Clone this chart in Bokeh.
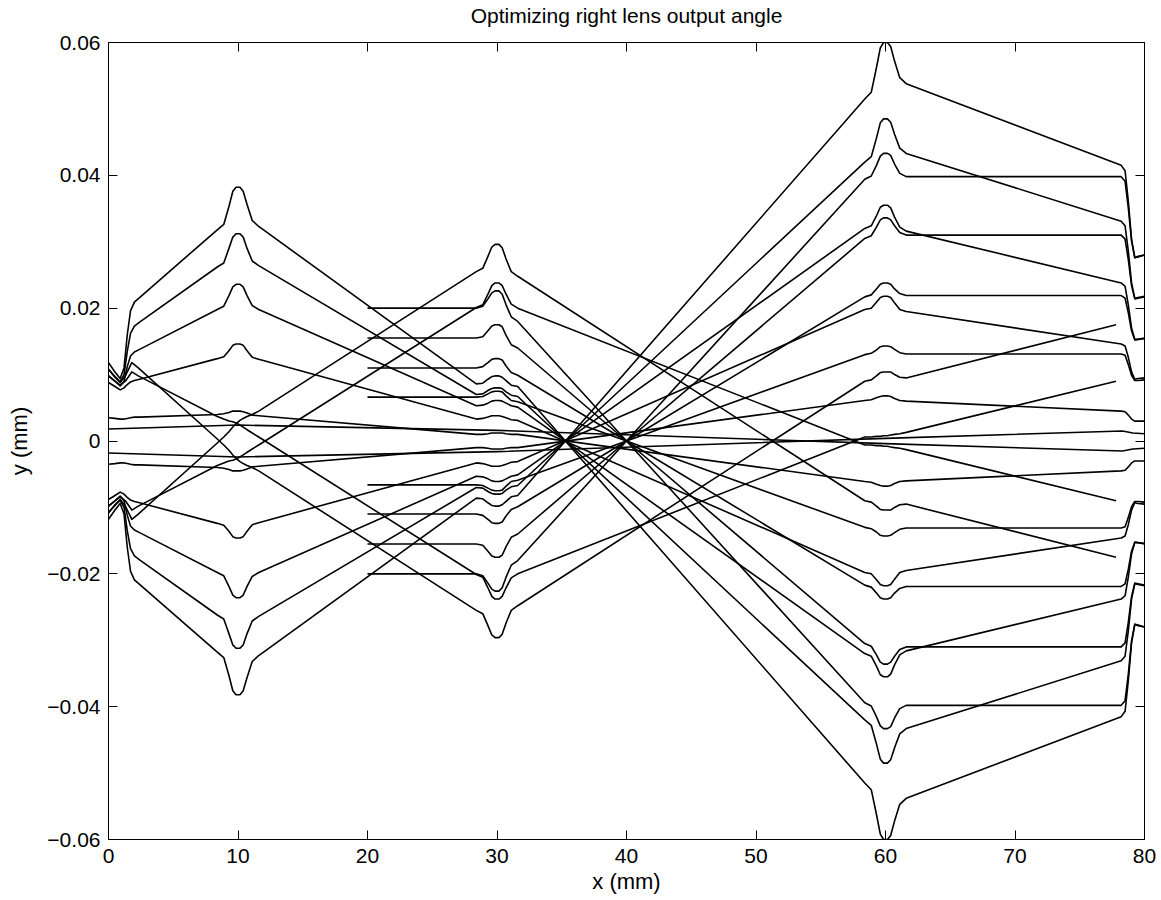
from bokeh.plotting import figure
from bokeh.models import Range1d, FixedTicker, LinearAxis, CustomJSTickFormatter, ColumnDataSource
from bokeh.embed import file_html
from bokeh.resources import INLINE

TITLE = "Optimizing right lens output angle"
X_LABEL = "x (mm)"
Y_LABEL = "y (mm)"
X_TICKS = [0, 10, 20, 30, 40, 50, 60, 70, 80]
Y_TICKS = [-0.06, -0.04, -0.02, 0, 0.02, 0.04, 0.06]

# sample positions (mm) read along the optical axis
SRC_X = [0, 0.5, 0.9, 1.2, 1.45, 1.7, 2.0, 2.4]
LENS10_X = [8.4, 8.9, 9.3, 9.6, 9.85, 10.15, 10.4, 10.7, 11.1, 11.6]
LENS30_X = [28.4, 28.9, 29.3, 29.6, 29.85, 30.15, 30.4, 30.7, 31.1, 31.6]
LENS60_X = [58.4, 58.9, 59.3, 59.6, 59.85, 60.15, 60.4, 60.7, 61.1, 61.6]
LENS80_X = [78.2, 78.5, 78.75, 79.0, 79.25, 79.5, 80]

# ---- rays from the source at x = 0 (wide at the 10 mm and 60 mm lenses) ----
L_X = SRC_X + LENS10_X + LENS30_X + LENS60_X + LENS80_X
L1_Y = [0.0118, 0.0104, 0.0094, 0.0110, 0.0160, 0.0196, 0.0209, 0.0216,
        0.0318, 0.0326, 0.0353, 0.0376, 0.0382, 0.0382, 0.0376, 0.0356, 0.0332, 0.0323,
        0.0086, 0.0087, 0.0093, 0.0097, 0.0098, 0.0098, 0.0096, 0.0091, 0.0084, 0.0082,
        -0.0515, -0.0525, -0.0562, -0.0592, -0.0600, -0.0600, -0.0594, -0.0572, -0.0547, -0.0538,
        -0.0415, -0.0407, -0.0361, -0.0304, -0.0276, -0.0277, -0.0280]
L2_Y = [0.0108, 0.0097, 0.0089, 0.0100, 0.0135, 0.0162, 0.0173, 0.0179,
        0.0262, 0.0268, 0.0290, 0.0307, 0.0312, 0.0312, 0.0307, 0.0290, 0.0271, 0.0264,
        0.0070, 0.0071, 0.0076, 0.0079, 0.0080, 0.0080, 0.0079, 0.0074, 0.0069, 0.0067,
        -0.0420, -0.0428, -0.0456, -0.0479, -0.0485, -0.0485, -0.0480, -0.0462, -0.0441, -0.0433,
        -0.0331, -0.0324, -0.0286, -0.0238, -0.0215, -0.0216, -0.0218]
L3_Y = [0.0098, 0.0090, 0.0083, 0.0090, 0.0112, 0.0128, 0.0134, 0.0138,
        0.0198, 0.0203, 0.0219, 0.0232, 0.0236, 0.0236, 0.0232, 0.0219, 0.0204, 0.0198,
        0.0053, 0.0054, 0.0057, 0.0060, 0.0061, 0.0061, 0.0060, 0.0057, 0.0053, 0.0051,
        -0.0320, -0.0324, -0.0339, -0.0352, -0.0355, -0.0355, -0.0351, -0.0337, -0.0322, -0.0316,
        -0.0238, -0.0233, -0.0205, -0.0170, -0.0153, -0.0153, -0.0155]
L4_Y = [0.0088, 0.0082, 0.0077, 0.0080, 0.0085, 0.0089, 0.0091, 0.0093,
        0.0124, 0.0127, 0.0136, 0.0144, 0.0146, 0.0146, 0.0144, 0.0136, 0.0126, 0.0123,
        0.0033, 0.0034, 0.0036, 0.0038, 0.0038, 0.0038, 0.0037, 0.0035, 0.0032, 0.0031,
        -0.0198, -0.0200, -0.0209, -0.0216, -0.0218, -0.0218, -0.0216, -0.0208, -0.0198, -0.0195,
        -0.0146, -0.0143, -0.0126, -0.0104, -0.0093, -0.0094, -0.0095]
L5_Y = [0.0035, 0.0034, 0.0033, 0.0033, 0.0034, 0.0035, 0.0036, 0.0036,
        0.0040, 0.0041, 0.0043, 0.0045, 0.0045, 0.0045, 0.0044, 0.0042, 0.0039, 0.0038,
        0.0010, 0.0010, 0.0011, 0.0012, 0.0012, 0.0012, 0.0012, 0.0011, 0.0010, 0.0010,
        -0.0061, -0.0062, -0.0065, -0.0067, -0.0068, -0.0068, -0.0067, -0.0064, -0.0061, -0.0060,
        -0.0045, -0.0044, -0.0039, -0.0033, -0.0030, -0.0030, -0.0030]
L6_Y = [-0.0118, -0.0104, -0.0094, -0.0110, -0.0160, -0.0196, -0.0209, -0.0216,
        -0.0318, -0.0326, -0.0353, -0.0376, -0.0382, -0.0382, -0.0376, -0.0356, -0.0332, -0.0323,
        -0.0086, -0.0087, -0.0093, -0.0097, -0.0098, -0.0098, -0.0096, -0.0091, -0.0084, -0.0082,
        0.0515, 0.0525, 0.0562, 0.0592, 0.0600, 0.0600, 0.0594, 0.0572, 0.0547, 0.0538,
        0.0415, 0.0407, 0.0361, 0.0304, 0.0276, 0.0277, 0.0280]
L7_Y = [-0.0108, -0.0097, -0.0089, -0.0100, -0.0135, -0.0162, -0.0173, -0.0179,
        -0.0262, -0.0268, -0.0290, -0.0307, -0.0312, -0.0312, -0.0307, -0.0290, -0.0271, -0.0264,
        -0.0070, -0.0071, -0.0076, -0.0079, -0.0080, -0.0080, -0.0079, -0.0074, -0.0069, -0.0067,
        0.0420, 0.0428, 0.0456, 0.0479, 0.0485, 0.0485, 0.0480, 0.0462, 0.0441, 0.0433,
        0.0331, 0.0324, 0.0286, 0.0238, 0.0215, 0.0216, 0.0218]
L8_Y = [-0.0098, -0.0090, -0.0083, -0.0090, -0.0112, -0.0128, -0.0134, -0.0138,
        -0.0198, -0.0203, -0.0219, -0.0232, -0.0236, -0.0236, -0.0232, -0.0219, -0.0204, -0.0198,
        -0.0053, -0.0054, -0.0057, -0.0060, -0.0061, -0.0061, -0.0060, -0.0057, -0.0053, -0.0051,
        0.0320, 0.0324, 0.0339, 0.0352, 0.0355, 0.0355, 0.0351, 0.0337, 0.0322, 0.0316,
        0.0238, 0.0233, 0.0205, 0.0170, 0.0153, 0.0153, 0.0155]
L9_Y = [-0.0088, -0.0082, -0.0077, -0.0080, -0.0085, -0.0089, -0.0091, -0.0093,
        -0.0124, -0.0127, -0.0136, -0.0144, -0.0146, -0.0146, -0.0144, -0.0136, -0.0126, -0.0123,
        -0.0033, -0.0034, -0.0036, -0.0038, -0.0038, -0.0038, -0.0037, -0.0035, -0.0032, -0.0031,
        0.0198, 0.0200, 0.0209, 0.0216, 0.0218, 0.0218, 0.0216, 0.0208, 0.0198, 0.0195,
        0.0146, 0.0143, 0.0126, 0.0104, 0.0093, 0.0094, 0.0095]
L10_Y = [-0.0035, -0.0034, -0.0033, -0.0033, -0.0034, -0.0035, -0.0036, -0.0036,
         -0.0040, -0.0041, -0.0043, -0.0045, -0.0045, -0.0045, -0.0044, -0.0042, -0.0039, -0.0038,
         -0.0010, -0.0010, -0.0011, -0.0012, -0.0012, -0.0012, -0.0012, -0.0011, -0.0010, -0.0010,
         0.0061, 0.0062, 0.0065, 0.0067, 0.0068, 0.0068, 0.0067, 0.0064, 0.0061, 0.0060,
         0.0045, 0.0044, 0.0039, 0.0033, 0.0030, 0.0030, 0.0030]

# ---- collimated rays starting at x = 20 mm, focused at x = 40 mm ----
C_X = [20] + LENS30_X + [40] + LENS60_X + LENS80_X
C1_Y = [0.0200, 0.0200, 0.0203, 0.0214, 0.0223, 0.0226, 0.0226, 0.0221, 0.0205, 0.0187, 0.0180, 0.0,
        -0.0394, -0.0399, -0.0415, -0.0429, -0.0433, -0.0433, -0.0430, -0.0417, -0.0403, -0.0398,
        -0.0398, -0.0391, -0.0351, -0.0301, -0.0276, -0.0278, -0.0280]
C2_Y = [0.0155, 0.0155, 0.0157, 0.0166, 0.0173, 0.0175, 0.0175, 0.0172, 0.0159, 0.0145, 0.0140, 0.0,
        -0.0305, -0.0309, -0.0322, -0.0333, -0.0336, -0.0336, -0.0333, -0.0324, -0.0314, -0.0310,
        -0.0310, -0.0304, -0.0273, -0.0234, -0.0214, -0.0215, -0.0217]
C3_Y = [0.0110, 0.0110, 0.0112, 0.0118, 0.0123, 0.0124, 0.0124, 0.0122, 0.0113, 0.0103, 0.0099, 0.0,
        -0.0217, -0.0220, -0.0229, -0.0236, -0.0238, -0.0238, -0.0236, -0.0229, -0.0222, -0.0219,
        -0.0219, -0.0215, -0.0193, -0.0166, -0.0152, -0.0153, -0.0154]
C4_Y = [0.0066, 0.0066, 0.0067, 0.0071, 0.0074, 0.0075, 0.0075, 0.0074, 0.0068, 0.0061, 0.0059, 0.0,
        -0.0130, -0.0132, -0.0137, -0.0142, -0.0143, -0.0143, -0.0142, -0.0138, -0.0133, -0.0131,
        -0.0131, -0.0129, -0.0115, -0.0099, -0.0091, -0.0091, -0.0092]
C5_Y = [-0.0200, -0.0200, -0.0203, -0.0214, -0.0223, -0.0226, -0.0226, -0.0221, -0.0205, -0.0187, -0.0180, 0.0,
        0.0394, 0.0399, 0.0415, 0.0429, 0.0433, 0.0433, 0.0430, 0.0417, 0.0403, 0.0398,
        0.0398, 0.0391, 0.0351, 0.0301, 0.0276, 0.0278, 0.0280]
C6_Y = [-0.0155, -0.0155, -0.0157, -0.0166, -0.0173, -0.0175, -0.0175, -0.0172, -0.0159, -0.0145, -0.0140, 0.0,
        0.0305, 0.0309, 0.0322, 0.0333, 0.0336, 0.0336, 0.0333, 0.0324, 0.0314, 0.0310,
        0.0310, 0.0304, 0.0273, 0.0234, 0.0214, 0.0215, 0.0217]
C7_Y = [-0.0110, -0.0110, -0.0112, -0.0118, -0.0123, -0.0124, -0.0124, -0.0122, -0.0113, -0.0103, -0.0099, 0.0,
        0.0217, 0.0220, 0.0229, 0.0236, 0.0238, 0.0238, 0.0236, 0.0229, 0.0222, 0.0219,
        0.0219, 0.0215, 0.0193, 0.0166, 0.0152, 0.0153, 0.0154]
C8_Y = [-0.0066, -0.0066, -0.0067, -0.0071, -0.0074, -0.0075, -0.0075, -0.0074, -0.0068, -0.0061, -0.0059, 0.0,
        0.0130, 0.0132, 0.0137, 0.0142, 0.0143, 0.0143, 0.0142, 0.0138, 0.0133, 0.0131,
        0.0131, 0.0129, 0.0115, 0.0099, 0.0091, 0.0091, 0.0092]

# ---- steep rays from the source, crossing early, wide at the 30 mm lens ----
M_X = [0, 0.5, 0.9, 1.3, 1.8, 2.3] + LENS10_X + LENS30_X + LENS60_X + [77.8]
M1_Y = [0.0108, 0.0096, 0.0088, 0.0098, 0.0118, 0.0110,
        0.0003, -0.0006, -0.0014, -0.0021, -0.0026, -0.0031, -0.0034, -0.0037, -0.0040, -0.0045,
        -0.0255, -0.0260, -0.0278, -0.0292, -0.0296, -0.0296, -0.0291, -0.0274, -0.0255, -0.0248,
        0.0090, 0.0092, 0.0098, 0.0103, 0.0104, 0.0104, 0.0104, 0.0100, 0.0096, 0.0095,
        0.0175]
M2_Y = [0.0098, 0.0090, 0.0084, 0.0090, 0.0104, 0.0098,
        0.0037, 0.0033, 0.0030, 0.0029, 0.0027, 0.0024, 0.0021, 0.0017, 0.0012, 0.0006,
        -0.0201, -0.0205, -0.0221, -0.0234, -0.0238, -0.0238, -0.0234, -0.0221, -0.0206, -0.0200,
        0.0006, 0.0006, 0.0007, 0.0007, 0.0008, 0.0008, 0.0009, 0.0010, 0.0011, 0.0013,
        0.0090]
M3_Y = [-0.0108, -0.0096, -0.0088, -0.0098, -0.0118, -0.0110,
        -0.0003, 0.0006, 0.0014, 0.0021, 0.0026, 0.0031, 0.0034, 0.0037, 0.0040, 0.0045,
        0.0255, 0.0260, 0.0278, 0.0292, 0.0296, 0.0296, 0.0291, 0.0274, 0.0255, 0.0248,
        -0.0090, -0.0092, -0.0098, -0.0103, -0.0104, -0.0104, -0.0104, -0.0100, -0.0096, -0.0095,
        -0.0175]
M4_Y = [-0.0098, -0.0090, -0.0084, -0.0090, -0.0104, -0.0098,
        -0.0037, -0.0033, -0.0030, -0.0029, -0.0027, -0.0024, -0.0021, -0.0017, -0.0012, -0.0006,
        0.0201, 0.0205, 0.0221, 0.0234, 0.0238, 0.0238, 0.0234, 0.0221, 0.0206, 0.0200,
        -0.0006, -0.0006, -0.0007, -0.0007, -0.0008, -0.0008, -0.0009, -0.0010, -0.0011, -0.0013,
        -0.0090]

# ---- near-axis rays ----
N_X = [0, 10, 30, 60, 78.3, 79.1, 80]
N1_Y = [0.0018, 0.0024, 0.0016, -0.0004, -0.0015, -0.0012, -0.0011]
N2_Y = [-0.0018, -0.0024, -0.0016, 0.0004, 0.0015, 0.0012, 0.0011]

rays_x = [L_X] * 10 + [C_X] * 8 + [M_X] * 4 + [N_X] * 2
rays_y = [L1_Y, L2_Y, L3_Y, L4_Y, L5_Y, L6_Y, L7_Y, L8_Y, L9_Y, L10_Y,
          C1_Y, C2_Y, C3_Y, C4_Y, C5_Y, C6_Y, C7_Y, C8_Y,
          M1_Y, M2_Y, M3_Y, M4_Y, N1_Y, N2_Y]

FONT = "Liberation Sans"

p = figure(width=1160, height=899, x_range=Range1d(0, 80), y_range=Range1d(-0.06, 0.06),
           output_backend="svg", toolbar_location=None,
           min_border_left=108, min_border_right=16, min_border_top=41, min_border_bottom=60)
p.background_fill_color = "white"
p.border_fill_color = "white"
p.outline_line_color = "black"
p.outline_line_width = 1
p.xgrid.visible = False
p.ygrid.visible = False

src = ColumnDataSource(dict(xs=rays_x, ys=rays_y))
p.multi_line(xs="xs", ys="ys", source=src, line_color="black", line_width=1.6,
             line_join="round")

yfmt = CustomJSTickFormatter(code="""
if (Math.abs(tick) < 1e-9) { return '0'; }
var s = Math.abs(tick).toFixed(2);
return (tick < 0 ? '\\u2212' : '') + s;
""")

xb = p.below[0]
yl = p.left[0]
xb.ticker = FixedTicker(ticks=X_TICKS)
yl.ticker = FixedTicker(ticks=Y_TICKS)
yl.formatter = yfmt
xb.axis_label = X_LABEL
yl.axis_label = Y_LABEL

# top axis carries the ticks of the box and the chart title
top = LinearAxis(ticker=FixedTicker(ticks=X_TICKS), axis_label=TITLE)
right = LinearAxis(ticker=FixedTicker(ticks=Y_TICKS))
p.add_layout(top, "above")
p.add_layout(right, "right")

for ax in [xb, yl, top, right]:
    ax.major_tick_in = 9
    ax.major_tick_out = 0
    ax.minor_tick_in = 0
    ax.minor_tick_out = 0
    ax.axis_line_color = "black"
    ax.major_tick_line_color = "black"
    ax.major_label_text_font = FONT
    ax.major_label_text_font_size = "21px"
    ax.major_label_text_color = "black"
    ax.axis_label_text_font = FONT
    ax.axis_label_text_font_size = "22px"
    ax.axis_label_text_font_style = "normal"
    ax.axis_label_text_color = "black"

for ax in [top, right]:
    ax.major_label_text_font_size = "1px"
    ax.major_label_text_color = None
    ax.major_label_text_alpha = 0
    ax.major_label_standoff = 0

top.axis_label_text_font_size = "21px"
top.axis_label_standoff = 16

xb.major_label_standoff = 9
xb.axis_label_standoff = 3
yl.major_label_standoff = 8
yl.axis_label_standoff = 12

open("out.html", "w").write(file_html(p, INLINE))
